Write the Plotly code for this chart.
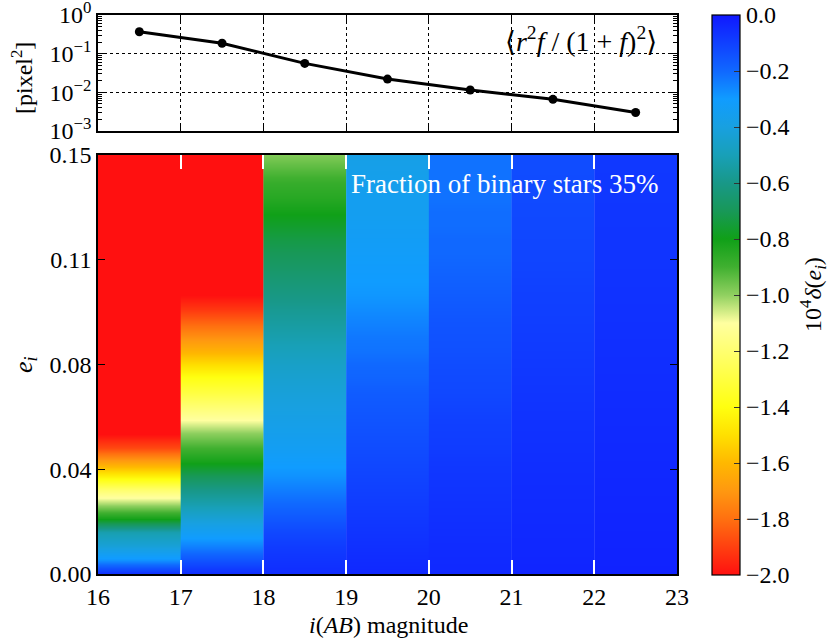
import plotly.graph_objects as go

# ---------------- data ----------------
mag_centers = [16.5, 17.5, 18.5, 19.5, 20.5, 21.5, 22.5]
r2f_mean = [0.37, 0.186, 0.056, 0.022, 0.0115, 0.0066, 0.0030]

e_grid = [round(0.005 * i, 3) for i in range(31)]  # 0.000 ... 0.150

delta_16_17 = [-0.05, -0.28, -0.42, -0.52, -0.82, -1.02, -1.20, -1.45, -1.67, -1.88, -2.0,
               -2.0, -2.0, -2.0, -2.0, -2.0, -2.0, -2.0, -2.0, -2.0, -2.0,
               -2.0, -2.0, -2.0, -2.0, -2.0, -2.0, -2.0, -2.0, -2.0, -2.0]
delta_17_18 = [-0.05, -0.15, -0.25, -0.34, -0.43, -0.52, -0.60, -0.70, -0.81, -0.90, -0.99,
               -1.10, -1.20, -1.30, -1.39, -1.50, -1.62, -1.72, -1.82, -1.92, -2.0,
               -2.0, -2.0, -2.0, -2.0, -2.0, -2.0, -2.0, -2.0, -2.0, -2.0]
delta_18_19 = [-0.05, -0.07, -0.09, -0.12, -0.16, -0.20, -0.24, -0.28, -0.31, -0.34, -0.36,
               -0.38, -0.40, -0.42, -0.44, -0.46, -0.49, -0.52, -0.55, -0.58, -0.61,
               -0.64, -0.67, -0.70, -0.73, -0.77, -0.81, -0.85, -0.88, -0.93, -0.98]
delta_19_20 = [-0.04, -0.05, -0.06, -0.07, -0.08, -0.09, -0.10, -0.11, -0.12, -0.13, -0.14,
               -0.15, -0.16, -0.17, -0.19, -0.20, -0.22, -0.23, -0.25, -0.27, -0.29,
               -0.30, -0.31, -0.32, -0.33, -0.34, -0.35, -0.35, -0.36, -0.37, -0.38]
delta_20_21 = [-0.04, -0.045, -0.05, -0.055, -0.06, -0.065, -0.07, -0.075, -0.08, -0.09, -0.095,
               -0.10, -0.11, -0.12, -0.125, -0.13, -0.14, -0.145, -0.15, -0.16, -0.17,
               -0.18, -0.19, -0.20, -0.20, -0.21, -0.21, -0.22, -0.22, -0.22, -0.22]
delta_21_22 = [-0.03, -0.035, -0.04, -0.042, -0.045, -0.048, -0.05, -0.053, -0.056, -0.06, -0.063,
               -0.066, -0.07, -0.074, -0.078, -0.082, -0.086, -0.09, -0.094, -0.098, -0.10,
               -0.105, -0.11, -0.113, -0.116, -0.12, -0.122, -0.125, -0.127, -0.13, -0.13]
delta_22_23 = [-0.025, -0.027, -0.029, -0.031, -0.033, -0.035, -0.037, -0.039, -0.041, -0.043, -0.045,
               -0.047, -0.049, -0.051, -0.053, -0.055, -0.057, -0.059, -0.061, -0.063, -0.065,
               -0.067, -0.069, -0.071, -0.072, -0.074, -0.075, -0.077, -0.078, -0.079, -0.08]
delta_columns = [delta_16_17, delta_17_18, delta_18_19, delta_19_20,
                 delta_20_21, delta_21_22, delta_22_23]

x_ticks = [16, 17, 18, 19, 20, 21, 22, 23]
e_tickvals = [0.0, 0.0375, 0.075, 0.1125, 0.15]
e_ticktext = ["0.00", "0.04", "0.08", "0.11", "0.15"]
log_tickvals = [1e-3, 1e-2, 1e-1, 1]
log_ticktext = ["10<sup>−3</sup>", "10<sup>−2</sup>", "10<sup>−1</sup>", "10<sup>0</sup>"]
log_minor = [k * 10.0 ** p for p in (-3, -2, -1) for k in range(2, 10)]

colorscale = [
    [0.00, "#ff1010"], [0.05, "#ff4010"], [0.10, "#ff7010"], [0.15, "#ff9810"],
    [0.20, "#ffb800"], [0.25, "#ffe000"], [0.30, "#ffff10"], [0.35, "#ffff40"],
    [0.40, "#ffff70"], [0.45, "#ffffa0"], [0.50, "#90d060"], [0.55, "#40b030"],
    [0.60, "#10a018"], [0.65, "#189858"], [0.70, "#189888"], [0.75, "#18a0b8"],
    [0.80, "#18a0e0"], [0.85, "#109cff"], [0.90, "#1068ff"], [0.95, "#1040ff"],
    [1.00, "#1018ff"],
]

FONT = "Liberation Serif, DejaVu Serif, serif"
TICK = 24

W, H = 830, 640
PL, PR, PT, PB = 98, 677, 15, 574  # plot area edges in page pixels
PW, PH = PR - PL, PB - PT


def px(x):  # page x -> paper x
    return (x - PL) / PW


def py(y):  # page y -> paper y
    return (PB - y) / PH


fig = go.Figure()

fig.add_trace(go.Scatter(
    x=mag_centers, y=r2f_mean, mode="lines+markers",
    line=dict(color="black", width=3), marker=dict(color="black", size=9),
    xaxis="x2", yaxis="y2", showlegend=False))

for c, col in zip(mag_centers, delta_columns):
    fig.add_trace(go.Heatmap(
        x=[c - 0.25, c + 0.25], y=e_grid, z=[[v, v] for v in col],
        coloraxis="coloraxis", zsmooth="best", xaxis="x", yaxis="y",
        hoverinfo="skip"))

fig.update_layout(
    width=W, height=H,
    margin=dict(l=PL, r=W - PR, t=PT, b=H - PB, autoexpand=False),
    paper_bgcolor="white", plot_bgcolor="white",
    font=dict(family=FONT, size=TICK, color="black"),
    showlegend=False,
    coloraxis=dict(
        colorscale=colorscale, cmin=-2.0, cmax=0.0,
        colorbar=dict(
            x=px(712), xanchor="left", xref="paper",
            y=py(575), yanchor="bottom", len=(575 - 15) / PH, lenmode="fraction",
            thickness=28, outlinewidth=1.2, outlinecolor="black",
            tick0=0, dtick=0.2, tickformat=".1f",
            ticks="inside", ticklen=6, tickcolor="#333",
            tickfont=dict(family=FONT, size=TICK), ypad=0, xpad=0,
            ticklabeloverflow="allow",
        ),
    ),
    xaxis=dict(
        domain=[0, 1], range=[16, 23], anchor="y",
        tickvals=x_ticks, ticks="inside", ticklen=14, tickwidth=2, tickcolor="white",
        mirror="ticks", showline=True, linecolor="black", linewidth=1.5,
        showgrid=False, zeroline=False, tickfont=dict(size=TICK),
        ticklabeloverflow="allow",
    ),
    yaxis=dict(
        domain=[0, py(155)], range=[0, 0.15], anchor="x",
        tickvals=e_tickvals, ticktext=e_ticktext, ticks="inside", ticklen=7,
        tickcolor="black", mirror="ticks", showline=True, linecolor="black",
        linewidth=1.5, showgrid=False, zeroline=False, tickfont=dict(size=TICK),
        ticklabeloverflow="allow",
    ),
    xaxis2=dict(
        domain=[0, 1], range=[16, 23], anchor="y2",
        tickvals=x_ticks, showticklabels=False, ticks="inside", ticklen=8,
        tickcolor="black", mirror="ticks", showline=True, linecolor="black",
        linewidth=1.5, showgrid=True, gridcolor="black", griddash="dot",
        gridwidth=1, zeroline=False,
    ),
    yaxis2=dict(
        domain=[py(131), 1], type="log", range=[-3, 0], anchor="x2",
        tickvals=log_tickvals, ticktext=log_ticktext, ticks="inside", ticklen=7,
        tickcolor="black", mirror="ticks", showline=True, linecolor="black",
        linewidth=1.5, showgrid=True, gridcolor="black", griddash="dot",
        gridwidth=1, zeroline=False, tickfont=dict(size=TICK),
        ticklabeloverflow="allow",
        minor=dict(tickvals=log_minor, ticks="inside", ticklen=4,
                   tickcolor="black", showgrid=False),
    ),
)

annotations = [
    dict(text="⟨<i>r</i><sup>2</sup><i>f</i> / (1 + <i>f</i>)<sup>2</sup>⟩",
         x=px(659), y=py(40), xanchor="right", font=dict(size=28, color="black")),
    dict(text="Fraction of binary stars 35%",
         x=px(660), y=py(184), xanchor="right", font=dict(size=27, color="white")),
    dict(text="[pixel<sup>2</sup>]", textangle=-90,
         x=px(22), y=py(78), xanchor="center", font=dict(size=24)),
    dict(text="<i>e<sub>i</sub></i>", textangle=-90,
         x=px(25), y=py(365), xanchor="center", font=dict(size=26)),
    dict(text="<i>i</i>(<i>AB</i>) magnitude",
         x=px(388), y=py(625), xanchor="center", font=dict(size=24)),
    dict(text="10<sup>4</sup><i>δ</i>(<i>e<sub>i</sub></i>)", textangle=-90,
         x=px(813), y=py(295), xanchor="center", font=dict(size=24)),
]
for a in annotations:
    a.update(xref="paper", yref="paper", yanchor="middle", showarrow=False)
    a["font"].setdefault("family", FONT)
fig.update_layout(annotations=annotations)

fig.write_html("out.html", config={"displayModeBar": False},
               post_script="document.body.style.margin='0';")
